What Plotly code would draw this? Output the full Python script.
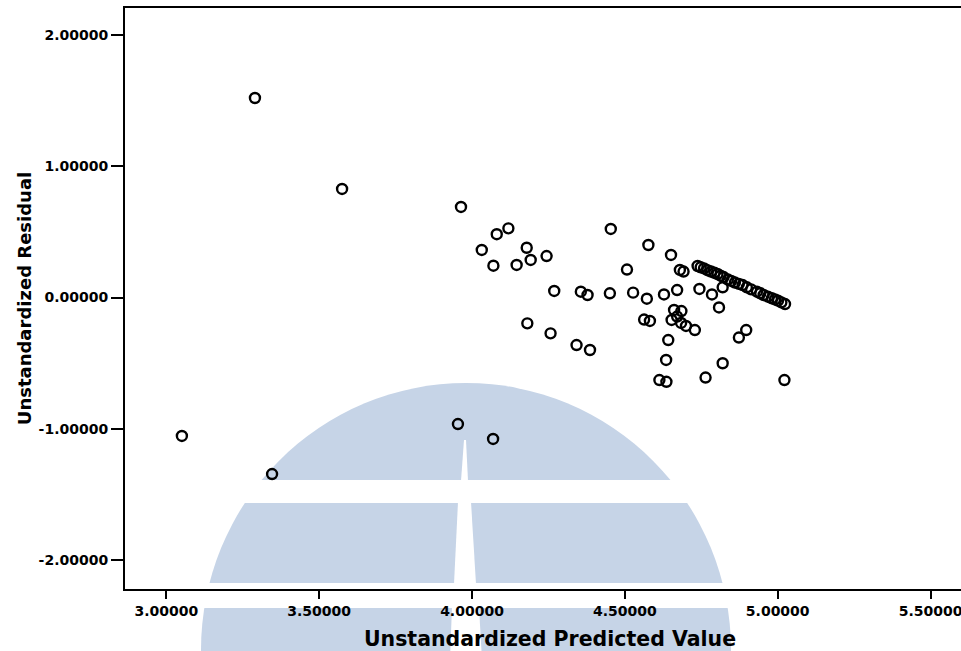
import plotly.graph_objects as go

# Unstandardized Predicted Value (x) and Unstandardized Residual (y)
predicted = [
    3.290, 3.575, 3.964, 3.051, 3.954, 4.069, 3.346,
    4.081, 4.119, 4.032, 4.179, 4.070, 4.146, 4.192, 4.244, 4.454,
    4.269, 4.356, 4.378, 4.451, 4.181, 4.257, 4.342, 4.386,
    4.577, 4.651, 4.507, 4.680, 4.692, 4.527, 4.572, 4.628, 4.671,
    4.744, 4.785, 4.820, 4.808, 4.661, 4.685, 4.671, 4.653, 4.684,
    4.700, 4.729, 4.563, 4.582, 4.642, 4.897, 4.873, 4.635, 4.820,
    4.613, 4.636, 4.764, 5.022,
    4.738, 4.748, 4.759, 4.770, 4.782, 4.793, 4.803, 4.813, 4.823, 4.837,
    4.848, 4.860, 4.873, 4.885, 4.899, 4.913, 4.932, 4.943, 4.954,
    4.968, 4.981, 4.991, 5.001, 5.012, 5.024,
]
residual = [
    1.520, 0.827, 0.690, -1.055, -0.964, -1.078, -1.345,
    0.482, 0.527, 0.362, 0.379, 0.242, 0.248, 0.286, 0.316, 0.522,
    0.050, 0.044, 0.019, 0.032, -0.197, -0.273, -0.362, -0.400,
    0.400, 0.324, 0.213, 0.210, 0.198, 0.037, -0.009, 0.023, 0.057,
    0.065, 0.023, 0.078, -0.076, -0.095, -0.103, -0.145, -0.171, -0.194,
    -0.217, -0.248, -0.168, -0.179, -0.324, -0.248, -0.305, -0.476, -0.501,
    -0.629, -0.642, -0.610, -0.629,
    0.240, 0.230, 0.222, 0.208, 0.198, 0.188, 0.179, 0.166, 0.156, 0.137,
    0.126, 0.114, 0.104, 0.095, 0.078, 0.062, 0.044, 0.032, 0.019,
    0.006, -0.006, -0.015, -0.024, -0.037, -0.050,
]

x_ticks = [3.0, 3.5, 4.0, 4.5, 5.0, 5.5]
x_tick_labels = ["3.00000", "3.50000", "4.00000", "4.50000", "5.00000", "5.50000"]
y_ticks = [-2.0, -1.0, 0.0, 1.0, 2.0]
y_tick_labels = ["-2.00000", "-1.00000", "0.00000", "1.00000", "2.00000"]

# the plot area runs on past the right edge of the 961px window, as in the reference
W, H = 975, 651
PL, PR, PT, PB = 125, 975, 8, 589          # plot area in page pixels
L, R, T, B = PL, W - PR, PT, H - PB
PW, PH = PR - PL, PB - PT


def xp(px):
    return (px - PL) / PW


def yp(py):
    return (PB - py) / PH


wm = "#c6d4e7"
shapes = [
    dict(type="circle", xref="paper", yref="paper", layer="below",
         x0=xp(201), x1=xp(731), y0=yp(917), y1=yp(383),
         fillcolor=wm, line=dict(width=0)),
]
for top, bot in [(480, 503), (583, 608)]:
    shapes.append(dict(type="rect", xref="paper", yref="paper", layer="below",
                       x0=xp(150), x1=xp(770), y0=yp(bot), y1=yp(top),
                       fillcolor="white", line=dict(width=0)))
slits = [
    [(464, 440), (466, 440), (468, 481), (461, 481)],
    [(458, 502), (471, 502), (476, 584), (454, 584)],
    [(452, 607), (479, 607), (482, 660), (450, 660)],
]
for poly in slits:
    path = "M " + " L ".join(f"{xp(a):.5f},{yp(b):.5f}" for a, b in poly) + " Z"
    shapes.append(dict(type="path", xref="paper", yref="paper", layer="below",
                       path=path, fillcolor="white", line=dict(width=0)))

fig = go.Figure()
fig.add_trace(go.Scatter(
    x=predicted, y=residual, mode="markers",
    marker=dict(symbol="circle-open", size=10, color="black",
                line=dict(width=2.4, color="black")),
    showlegend=False, hoverinfo="x+y",
))

tickfont = dict(family="DejaVu Sans", size=14, color="black", weight="bold")
fig.update_layout(
    width=W, height=H,
    margin=dict(l=L, r=R, t=T, b=B, pad=0),
    paper_bgcolor="white", plot_bgcolor="rgba(0,0,0,0)",
    shapes=shapes,
    xaxis=dict(
        range=[2.8649, 5.6454], tickvals=x_ticks, ticktext=x_tick_labels,
        ticks="outside", ticklen=8, tickwidth=2, tickcolor="black",
        ticklabeloverflow="allow",
        showline=True, linecolor="black", linewidth=2, mirror=True,
        showgrid=False, zeroline=False, tickfont=tickfont,
        title=dict(text="Unstandardized Predicted Value", standoff=15,
                   font=dict(family="DejaVu Sans", size=20.5, color="black", weight="bold")),
    ),
    yaxis=dict(
        range=[-2.2210, 2.2057], tickvals=y_ticks, ticktext=y_tick_labels,
        ticks="outside", ticklen=12, tickwidth=2, tickcolor="black",
        showline=True, linecolor="black", linewidth=2,
        showgrid=False, zeroline=False, tickfont=tickfont,
        title=dict(text="Unstandardized Residual", standoff=2,
                   font=dict(family="DejaVu Sans", size=18, color="black", weight="bold")),
    ),
)

fig.write_html(
    "out.html",
    config={"displayModeBar": False},
    post_script="document.body.style.margin='0';document.body.style.overflow='hidden';",
)
